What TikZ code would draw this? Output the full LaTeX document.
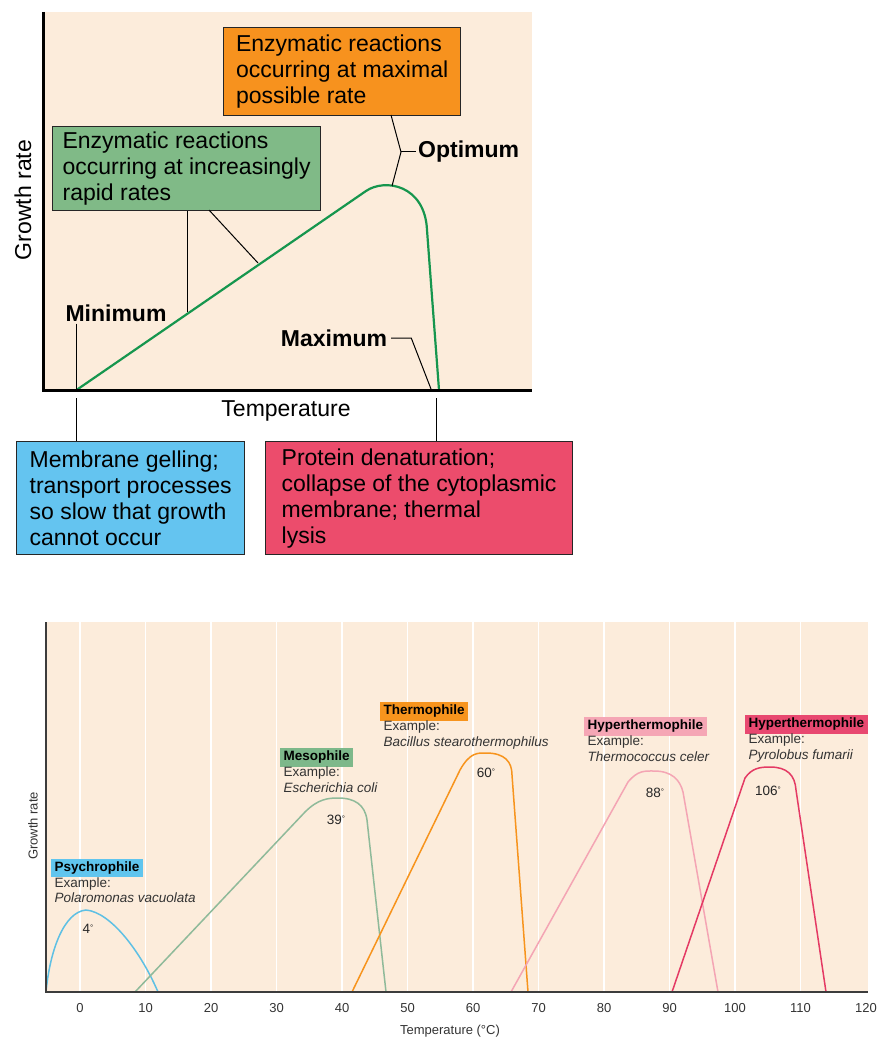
\documentclass[tikz,border=0pt]{standalone}
\usepackage{fontspec}
\setmainfont{Liberation Sans}
\usetikzlibrary{positioning}
\definecolor{peach}{RGB}{252,236,219}
\definecolor{optorange}{RGB}{247,146,30}
\definecolor{risegreen}{RGB}{128,186,135}
\definecolor{coldblue}{RGB}{100,196,240}
\definecolor{hotred}{RGB}{236,76,108}
\definecolor{curvegreen}{RGB}{22,150,78}
\definecolor{psyline}{RGB}{94,192,228}
\definecolor{psytag}{RGB}{96,197,238}
\definecolor{mesoline}{RGB}{143,186,154}
\definecolor{mesotag}{RGB}{125,184,138}
\definecolor{thermoline}{RGB}{247,148,29}
\definecolor{hyperline}{RGB}{244,165,180}
\definecolor{hypertag}{RGB}{245,166,181}
\definecolor{pyroline}{RGB}{228,58,100}
\definecolor{pyrotag}{RGB}{232,72,112}
\definecolor{axisgray}{RGB}{60,60,60}
\newcommand{\degmark}{\raisebox{3.5pt}{\fontsize{8}{8}\selectfont °}}

\begin{document}
\begin{tikzpicture}[x=1pt,y=-1pt,
  bigfont/.style={font=\fontsize{23}{26}\selectfont},
  callout/.style={bigfont,draw=black!85,line width=1.2pt,anchor=north west,align=left,inner sep=4pt},
  keyword/.style={font=\fontsize{23}{26}\selectfont\bfseries,inner sep=2pt},
  pointer/.style={black,line width=1pt},
  tag/.style={font=\fontsize{13.5}{15.5}\selectfont\bfseries,inner xsep=3.5pt,inner ysep=3pt,anchor=west},
  example/.style={font=\fontsize{13.5}{15.5}\selectfont,text=black!80,align=left,inner sep=0pt,anchor=north west},
  peaklabel/.style={font=\fontsize{13.5}{15.5}\selectfont,text=black!85},
  ticklabel/.style={font=\fontsize{13}{15}\selectfont,text=black!80},
  species/.style={line width=1.5pt}]
\useasboundingbox (0,0) rectangle (885,1043);

\fill[peach] (43,12) rectangle (532,390);
\coordinate (minstart) at (76.5,390);
\coordinate (peak) at (392,186);
\coordinate (maxend) at (439,390);
\draw[curvegreen,line width=2.2pt] (minstart) -- (366,191) .. controls (385,178) and (425,185) .. (427,230) -- (maxend);
\draw[line width=3pt] (43,12) -- (43,390) -- (532,390);

\node[callout,fill=optorange,minimum width=237pt,minimum height=88pt] (optbox) at (223,27) {Enzymatic reactions\\occurring at maximal\\possible rate};
\node[callout,fill=risegreen,minimum width=268pt,minimum height=84pt] (risebox) at (52,126) {Enzymatic reactions\\occurring at increasingly\\rapid rates};
\node[callout,fill=coldblue,minimum width=228pt,minimum height=113pt] (coldbox) at (16,441) {Membrane gelling;\\transport processes\\so slow that growth\\cannot occur};
\node[callout,fill=hotred,minimum width=307pt,minimum height=113pt] (hotbox) at (265,441) {Protein denaturation;\\collapse of the cytoplasmic\\membrane; thermal\\lysis};

\node[keyword,anchor=west] (optlabel) at (416,152) {Optimum};
\node[keyword] (minlabel) at (116,313) {Minimum};
\node[keyword] (maxlabel) at (334,338) {Maximum};
\node[bigfont] (templabel) at (286,411) {Temperature};
\node[bigfont,rotate=90] (ratelabel) at (23,200) {Growth rate};

\coordinate (optroot) at (391,115);
\coordinate (optknee) at (401,152);
\draw[pointer] (optroot) -- (optknee) -- (peak);
\draw[pointer] (optknee) -- (optlabel.west);
\coordinate (riseroot) at (209,210);
\coordinate (riseA) at (187,312);
\coordinate (riseB) at (258,263);
\draw[pointer] (risebox.south -| riseA) -- (riseA);
\draw[pointer] (riseroot) -- (riseB);
\coordinate (minfoot) at (76.5,398);
\draw[pointer] (minlabel.south -| minstart) -- (minstart);
\draw[pointer] (minfoot) -- (minfoot |- coldbox.north);
\coordinate (maxfoot) at (431,389);
\draw[pointer] ([xshift=2pt]maxlabel.east) -- ++(20,0) -- (maxfoot);
\coordinate (hotfoot) at (436,398);
\draw[pointer] (hotfoot) -- (hotfoot |- hotbox.north);

\fill[peach] (46,622) rectangle (868,992);
\foreach \t in {0,10,...,110}
  \draw[white,line width=1.5pt] ({80+6.55*\t},622) -- ({80+6.55*\t},992);
\draw[species,psyline] (46,992) .. controls (50,950) and (64,912) .. (86,910) .. controls (110,912) and (140,950) .. (158,992);
\draw[species,mesoline] (135,992) -- (305,812) .. controls (318,799) and (328,798) .. (338,798) .. controls (355,798) and (365,805) .. (367,820) -- (386,992);
\draw[species,thermoline] (352,992) -- (460,770) .. controls (470,752) and (478,753) .. (486,753) .. controls (505,753) and (512,762) .. (512,775) -- (528,992);
\draw[species,hyperline] (511,992) -- (628,782) .. controls (638,770) and (645,771) .. (654,771) .. controls (672,771) and (680,780) .. (683,792) -- (718,992);
\draw[species,pyroline] (672,992) -- (745,778) .. controls (752,768) and (760,767) .. (770,767) .. controls (787,767) and (795,775) .. (796,790) -- (826,992);
\draw[axisgray,line width=1.6pt] (46,622) -- (46,992) -- (868,992);
\foreach \t in {0,10,...,120}
  \node[ticklabel] (tick\t) at ({80+6.55*\t},1008) {\t};
\node[ticklabel] (tempaxis) at (450,1031) {Temperature (°C)};
\node[ticklabel,rotate=90] (rateaxis) at (33,826) {Growth rate};

\node[peaklabel] (psypeak) at (88,929) {4\degmark};
\node[peaklabel] (mesopeak) at (336,820) {39\degmark};
\node[peaklabel] (thermopeak) at (486,773) {60\degmark};
\node[peaklabel] (hyperpeak) at (655,793) {88\degmark};
\node[peaklabel] (pyropeak) at (768,791) {106\degmark};

\node[tag,fill=psytag] (psyname) at (51,868) {Psychrophile};
\node[example] (psyex) at ([xshift=3.5pt]psyname.south west) {Example:\\\textit{Polaromonas vacuolata}};
\node[tag,fill=mesotag] (mesoname) at (280,757.5) {Mesophile};
\node[example] (mesoex) at ([xshift=3.5pt]mesoname.south west) {Example:\\\textit{Escherichia coli}};
\node[tag,fill=thermoline] (thermoname) at (380,711.5) {Thermophile};
\node[example] (thermoex) at ([xshift=3.5pt]thermoname.south west) {Example:\\\textit{Bacillus stearothermophilus}};
\node[tag,fill=hypertag] (hypername) at (584,726.5) {Hyperthermophile};
\node[example] (hyperex) at ([xshift=3.5pt]hypername.south west) {Example:\\\textit{Thermococcus celer}};
\node[tag,fill=pyrotag] (pyroname) at (745,724.5) {Hyperthermophile};
\node[example] (pyroex) at ([xshift=3.5pt]pyroname.south west) {Example:\\\textit{Pyrolobus fumarii}};
\end{tikzpicture}
\end{document}
